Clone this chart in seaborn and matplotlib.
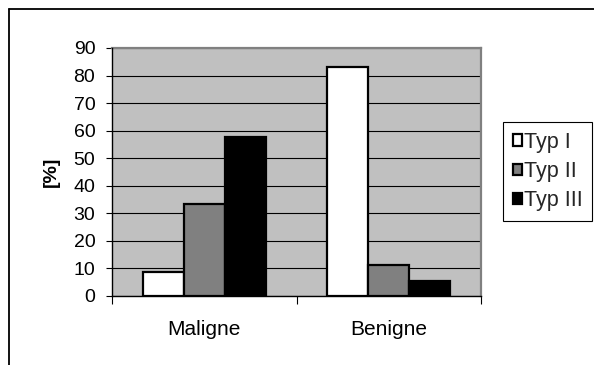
import matplotlib
matplotlib.use("Agg")
import matplotlib.pyplot as plt
from matplotlib.lines import Line2D
from matplotlib.ticker import FixedLocator
import seaborn as sns
import pandas as pd

categories = ["Maligne", "Benigne"]
types = ["Typ I", "Typ II", "Typ III"]
typ1 = [8.7, 83.0]
typ2 = [33.4, 11.2]
typ3 = [57.6, 5.5]
yticks = [0, 10, 20, 30, 40, 50, 60, 70, 80, 90]

rows = []
for t, vals in zip(types, [typ1, typ2, typ3]):
    for c, v in zip(categories, vals):
        rows.append({"cat": c, "typ": t, "val": v})
df = pd.DataFrame(rows)

sns.set_theme(style="white")
plt.rcParams["font.family"] = ["Liberation Sans", "DejaVu Sans"]

W, H = 594, 365
fig = plt.figure(figsize=(W / 100, H / 100), dpi=100)
ax = fig.add_axes([112 / W, 1 - 296 / H, (481 - 112) / W, (296 - 48) / H])
ax.set_facecolor("#C0C0C0")

palette = {"Typ I": "#FFFFFF", "Typ II": "#808080", "Typ III": "#000000"}
sns.barplot(data=df, x="cat", y="val", hue="typ", order=categories, hue_order=types,
            palette=palette, width=0.667, edgecolor="black", linewidth=1.6,
            saturation=1, ax=ax, legend=True)

ax.set_xlim(-0.5, 1.5)
ax.set_ylim(0, 90)
ax.set_yticks(yticks)
ax.yaxis.grid(True, color="black", linewidth=0.8)
ax.xaxis.grid(False)
ax.set_axisbelow(True)

fs = 14
ax.tick_params(axis="y", which="major", direction="out", length=4, width=0.8,
               color="black", labelsize=fs, pad=8, left=True)
ax.tick_params(axis="x", which="major", length=0, labelsize=15, pad=17)
ax.xaxis.set_minor_locator(FixedLocator([-0.5, 0.5, 1.5]))
ax.tick_params(axis="x", which="minor", direction="out", length=5.5, width=0.8,
               color="black", bottom=True)
for lab in ax.get_xticklabels() + ax.get_yticklabels():
    lab.set_color("black")

ax.set_xlabel("")
ax.set_ylabel("[%]", fontsize=fs, fontweight="bold", color="black", labelpad=10)

for s in ["top", "right"]:
    ax.spines[s].set_color("#808080")
    ax.spines[s].set_linewidth(1.6)
for s in ["left", "bottom"]:
    ax.spines[s].set_color("black")
    ax.spines[s].set_linewidth(1.0)
    ax.spines[s].set_zorder(5)

handles, labels = ax.get_legend_handles_labels()
ax.get_legend().remove()
leg = fig.legend(handles, labels, loc="upper left",
                 bbox_to_anchor=(503 / W, 1 - 122 / H), borderaxespad=0,
                 fontsize=15.5, frameon=True, fancybox=False, framealpha=1,
                 edgecolor="black", handlelength=0.42, handleheight=0.42,
                 handletextpad=0.1, labelspacing=0.38, borderpad=0.45)
leg.get_frame().set_linewidth(0.8)

fig.add_artist(Line2D([8.5 / W, 1], [1 - 9 / H, 1 - 9 / H], color="black", lw=1.3,
                      transform=fig.transFigure))
fig.add_artist(Line2D([8.5 / W, 8.5 / W], [0, 1 - 9 / H], color="black", lw=1.3,
                      transform=fig.transFigure))

fig.savefig("out.png", dpi=100)
